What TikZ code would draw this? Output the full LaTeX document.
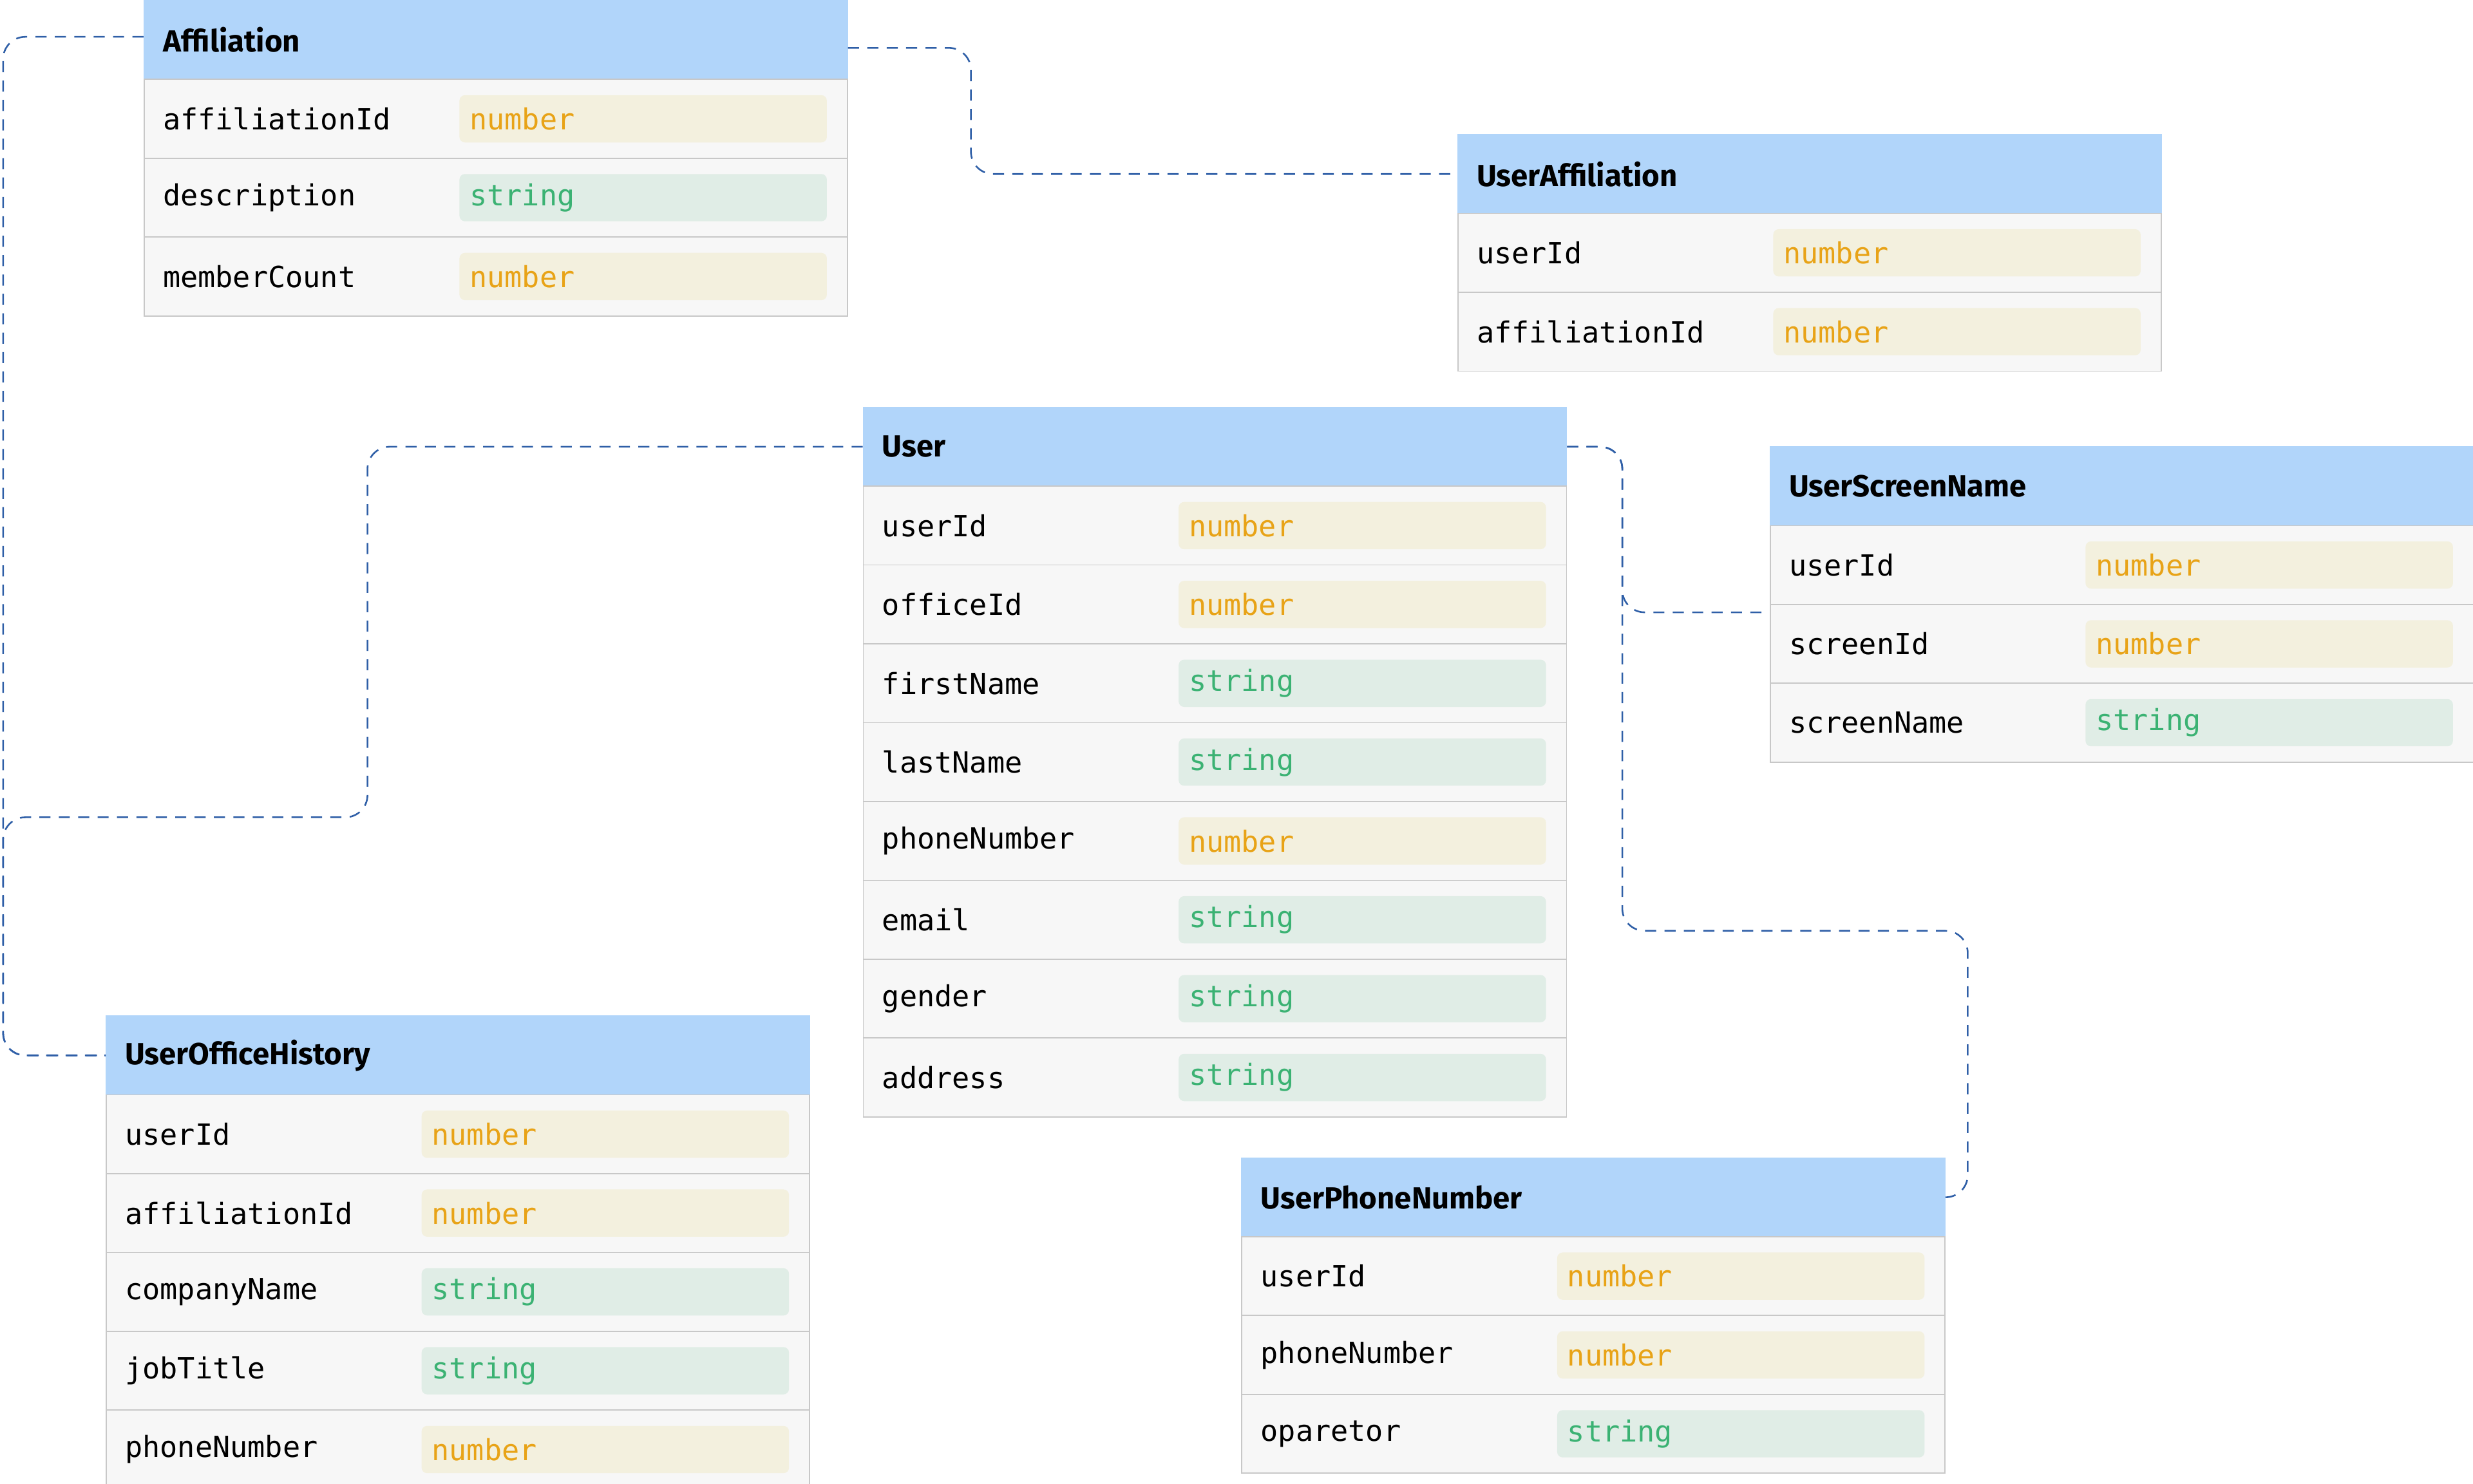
\documentclass[tikz,border=0pt]{standalone}
\usepackage{fontspec}
\setmainfont{Fira Sans}
\setmonofont{DejaVu Sans Mono}
\usetikzlibrary{positioning}

\definecolor{headblue}{HTML}{B1D5FA}
\definecolor{rowgray}{HTML}{F7F7F7}
\definecolor{rulegray}{HTML}{C8C8C8}
\definecolor{numfill}{HTML}{F3F0DE}
\definecolor{numtext}{HTML}{E8A317}
\definecolor{strfill}{HTML}{E0EDE6}
\definecolor{strtext}{HTML}{3BB273}
\definecolor{linkblue}{HTML}{2F5FA7}

% one table: name, x, y, title, field/type list
\newcommand{\erdtable}[5]{%
  \node [head] (#1) at (#2,#3) {#4};
  \foreach \f/\t [count=\i] in {#5} {
    \node [row] (#1-r\i) at (#2,#3+50*\i) {\f};
    \node [t-\t] (#1-t\i) at ([xshift=4cm]#1-r\i.west) {\t};
  }%
}

\begin{document}
\begin{tikzpicture}[x=0.02cm, y=-0.02cm]

    \tikzset{head/.style={%
      draw=headblue,%
      fill=headblue,%
      anchor=north west,%
      minimum width=8.92cm,%
      minimum height=1cm,%
      text width=8.44cm,%
      inner xsep=0.24cm,%
      align=left,%
      font=\fontsize{11}{13}\selectfont\bfseries}%
    };
    \tikzset{row/.style={head, draw=rulegray, fill=rowgray,
      font=\ttfamily\fontsize{10.5}{13}\selectfont}};
    \tikzset{badge/.style={anchor=west, rounded corners=2pt,
      minimum width=4.66cm, minimum height=0.6cm, text width=4.4cm,
      inner xsep=0.13cm, align=left, font=\ttfamily\fontsize{10.5}{13}\selectfont}};
    \tikzset{t-number/.style={badge, fill=numfill, text=numtext}};
    \tikzset{t-string/.style={badge, fill=strfill, text=strtext}};
    \tikzset{link/.style={draw=linkblue, semithick, dash pattern=on 4pt off 3pt,
      rounded corners=8pt}};

    \useasboundingbox (0,0) rectangle (1568,941);

    %%%%%%%%%%%%%%%
    %   tables    %
    %%%%%%%%%%%%%%%
    \erdtable{aff}{91}{0}{Affiliation}{affiliationId/number, description/string, memberCount/number}
    \erdtable{uaff}{924}{85}{UserAffiliation}{userId/number, affiliationId/number}
    \erdtable{usr}{547}{258}{User}{userId/number, officeId/number, firstName/string, lastName/string, phoneNumber/number, email/string, gender/string, address/string}
    \erdtable{usn}{1122}{283}{UserScreenName}{userId/number, screenId/number, screenName/string}
    \erdtable{uoh}{67}{644}{UserOfficeHistory}{userId/number, affiliationId/number, companyName/string, jobTitle/string, phoneNumber/number}
    \erdtable{upn}{787}{734}{UserPhoneNumber}{userId/number, phoneNumber/number, oparetor/string}

    %%%%%%%%%%%%%%%
    %   links     %
    %%%%%%%%%%%%%%%
    \draw [link] ([yshift=-0.1cm]aff.east) -- ++(78,0) |- (uaff.west);
    \draw [link] ([yshift=0.04cm]aff.west) -- ++(-89,0) |- (uoh.west);
    \draw [link] (usr.west) -- ++(-314,0) -- ++(0,235) -- ++(-231,0) |- (uoh.west);
    \draw [link] (usr.east) -- ++(35,0) |- ([yshift=-1.6cm]usn.west);
    \draw [link] (usr.east) -- ++(35,0) -- ++(0,307) -- ++(219,0) |- (upn.east);

  \end{tikzpicture}
\end{document}
